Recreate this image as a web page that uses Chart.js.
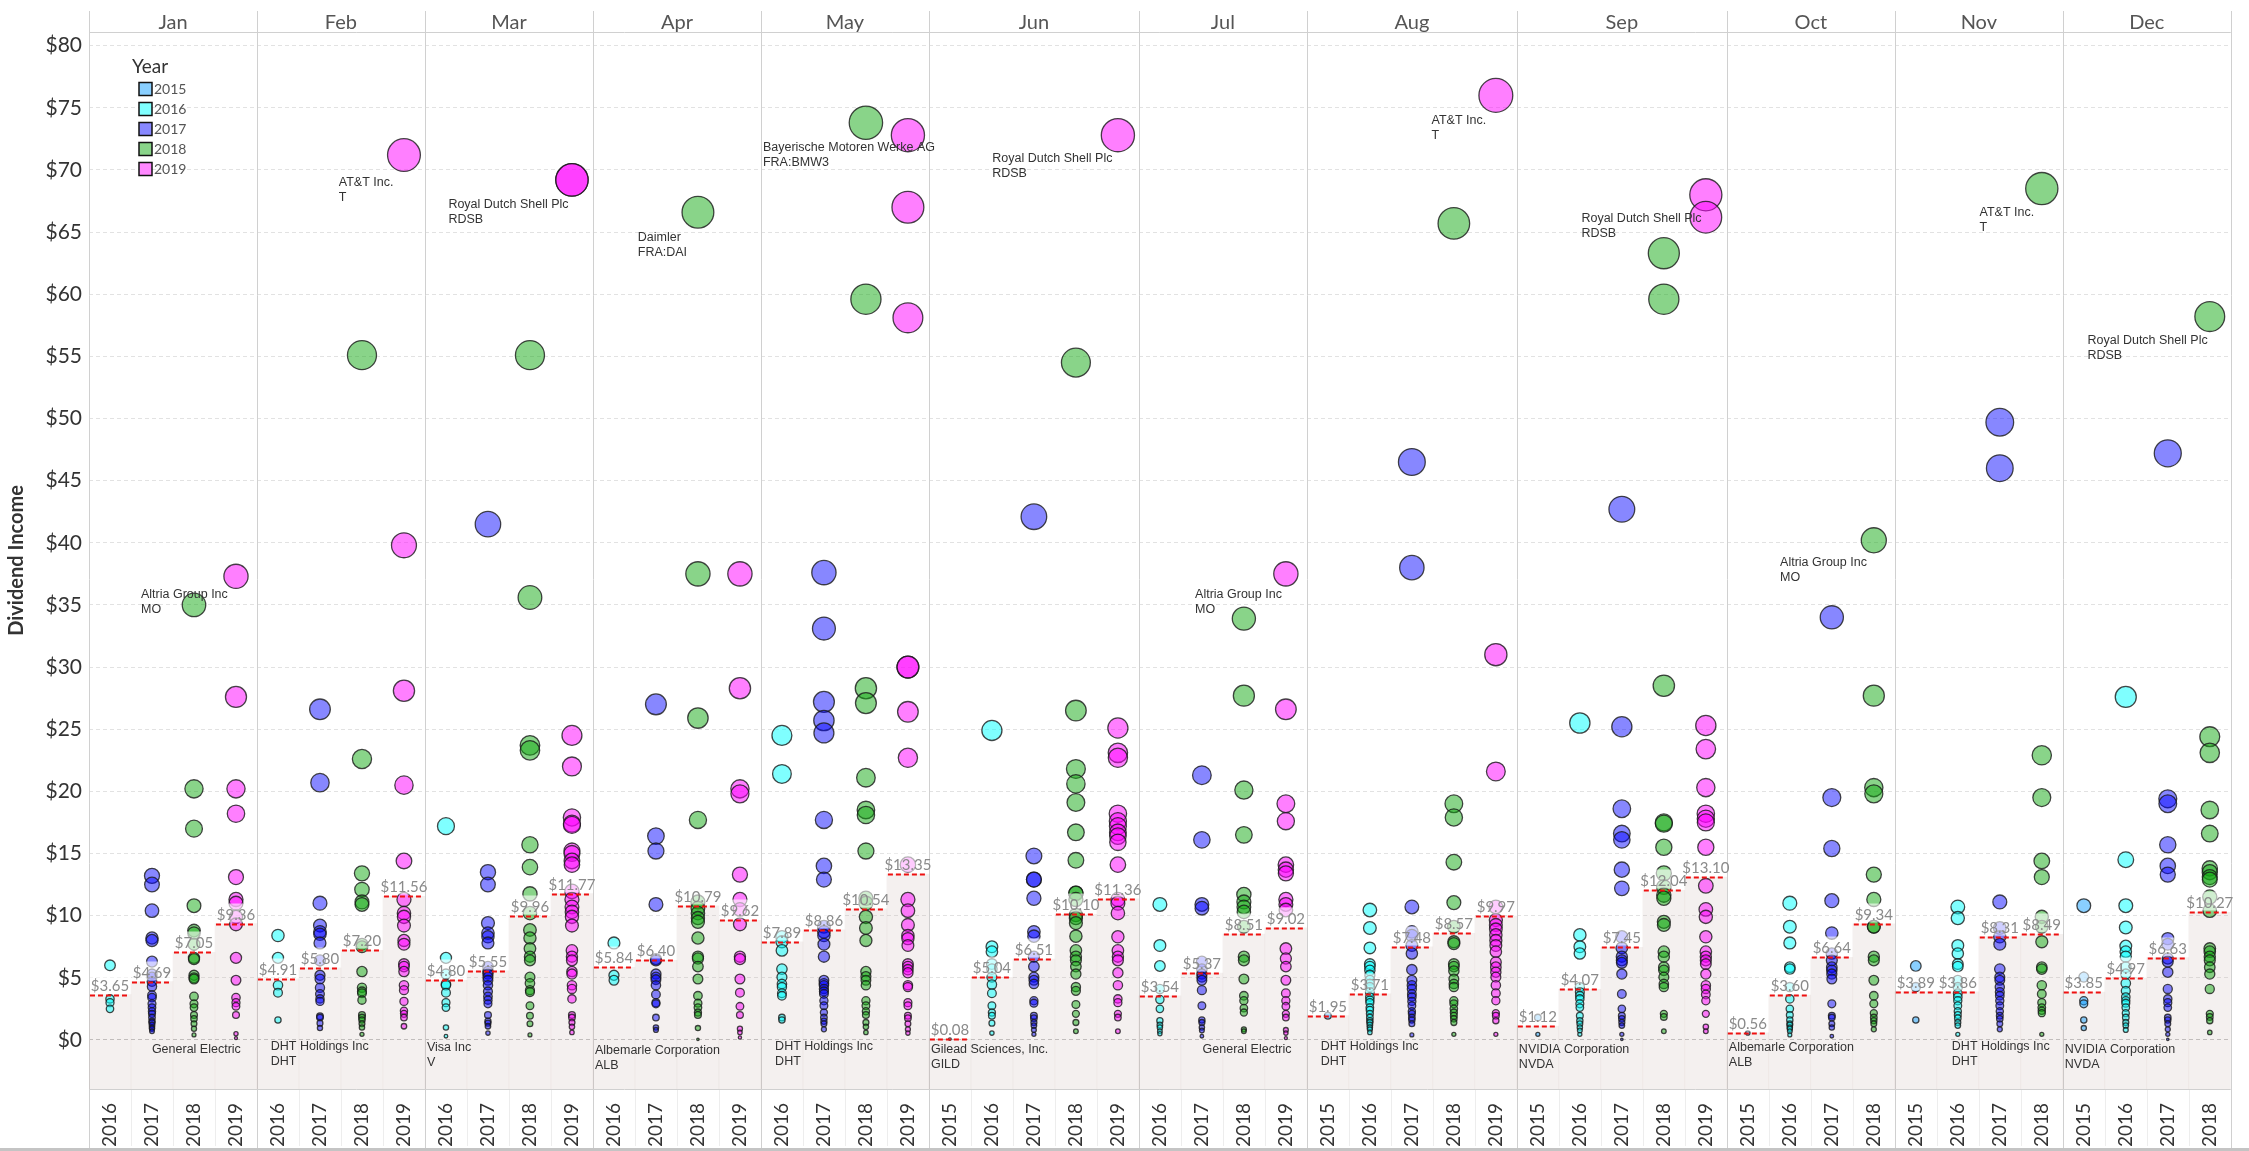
<!DOCTYPE html>
<html>
<head>
<meta charset="utf-8">
<script src="https://cdn.jsdelivr.net/npm/chart.js@4.4.1/dist/chart.umd.min.js"></script>
<style>
  html, body { margin: 0; padding: 0; background: #fff; overflow: hidden; }
  #wrap { width: 2249px; height: 1151px; position: relative; }
  #wrap canvas { display: block; }
</style>
</head>
<body>
<div id="wrap"><canvas id="dividendChart"></canvas></div>
<script>
const months = ['Jan', 'Feb', 'Mar', 'Apr', 'May', 'Jun', 'Jul', 'Aug', 'Sep', 'Oct', 'Nov', 'Dec'];
const monthYears = [
  [2016, 2017, 2018, 2019], [2016, 2017, 2018, 2019], [2016, 2017, 2018, 2019],
  [2016, 2017, 2018, 2019], [2016, 2017, 2018, 2019], [2015, 2016, 2017, 2018, 2019],
  [2016, 2017, 2018, 2019], [2015, 2016, 2017, 2018, 2019], [2015, 2016, 2017, 2018, 2019],
  [2015, 2016, 2017, 2018], [2015, 2016, 2017, 2018], [2015, 2016, 2017, 2018]
];
const yearList = [2015, 2016, 2017, 2018, 2019];
const yearFill = ['rgba(20,160,255,0.5)', 'rgba(0,255,255,0.5)', 'rgba(0,0,255,0.47)', 'rgba(20,170,20,0.5)', 'rgba(255,0,255,0.5)'];
const yearSwatch = ['#89cfff', '#80ffff', '#8888ff', '#89d489', '#ff88ff'];
const yTicks = [0, 5, 10, 15, 20, 25, 30, 35, 40, 45, 50, 55, 60, 65, 70, 75, 80];
const Y_MIN = -3.95;
const Y_MAX = 81.1;

// average dividend per column (month / year), as labelled
const avgIncome = [
  3.65, 4.69, 7.05, 9.36,
  4.91, 5.80, 7.20, 11.56,
  4.80, 5.55, 9.96, 11.77,
  5.84, 6.40, 10.79, 9.62,
  7.89, 8.86, 10.54, 13.35,
  0.08, 5.04, 6.51, 10.10, 11.36,
  3.54, 5.37, 8.51, 9.02,
  1.95, 3.71, 7.48, 8.57, 9.97,
  1.12, 4.07, 7.45, 12.04, 13.10,
  0.56, 3.60, 6.64, 9.34,
  3.89, 3.86, 8.31, 8.49,
  3.85, 4.97, 6.63, 10.27
];

// individual dividend payments, one list per year column
const janIncome = [
  [6.0, 3.3, 3.0, 2.5],
  [13.2, 12.5, 10.4, 8.2, 8.0, 6.3, 5.3, 5.05, 4.7, 4.3, 3.6, 3.4, 2.9, 2.6, 2.3, 2.1, 1.8, 1.5, 1.4, 1.2, 1.0, 0.9, 0.7],
  [35.0, 20.2, 17.0, 10.8, 8.8, 8.6, 7.7, 6.6, 6.5, 5.2, 5.0, 4.9, 3.5, 2.9, 2.6, 2.0, 1.7, 1.3, 0.9, 0.4],
  [37.3, 27.6, 20.2, 18.2, 13.1, 11.3, 11.0, 9.9, 9.3, 6.6, 4.8, 3.4, 3.0, 2.7, 2.0, 0.5, 0.15]
];
const febIncome = [
  [8.4, 6.6, 4.4, 3.8, 1.6],
  [26.6, 20.7, 11.0, 9.2, 8.7, 8.5, 7.8, 6.4, 5.2, 4.9, 4.2, 3.7, 3.3, 3.1, 1.9, 1.8, 1.35, 0.95],
  [55.1, 22.6, 13.4, 12.1, 11.1, 10.9, 7.7, 7.5, 5.5, 4.2, 3.9, 3.75, 3.2, 2.0, 1.8, 1.6, 1.3, 1.0, 0.45],
  [71.2, 39.8, 28.1, 20.5, 14.4, 11.3, 10.2, 9.9, 9.2, 8.0, 7.7, 6.1, 5.9, 5.5, 4.4, 4.0, 3.1, 2.35, 2.1, 1.8, 1.1]
];
const marIncome = [
  [17.2, 6.6, 5.3, 4.5, 4.4, 3.8, 3.0, 2.6, 1.0, 0.3],
  [41.5, 13.5, 12.5, 9.4, 8.6, 8.3, 7.8, 5.9, 5.5, 5.3, 5.05, 4.8, 4.4, 3.9, 3.5, 3.2, 2.9, 2.0, 1.5, 1.35, 1.1, 0.55],
  [55.1, 35.6, 23.7, 23.3, 15.7, 13.9, 11.75, 10.2, 8.85, 8.2, 7.35, 6.7, 6.4, 5.05, 4.55, 4.0, 3.85, 2.75, 1.95, 1.3, 0.4],
  [69.2, 69.2, 24.5, 22.0, 17.9, 17.4, 17.3, 15.2, 15.0, 14.4, 14.1, 11.95, 11.3, 10.7, 10.3, 9.9, 9.2, 7.2, 6.7, 6.4, 5.5, 5.3, 4.4, 4.1, 3.3, 2.0, 1.8, 1.4, 1.05, 0.6]
];
const aprIncome = [
  [7.8, 5.2, 4.8],
  [27.0, 16.4, 15.2, 10.9, 6.5, 6.4, 5.3, 5.05, 4.85, 4.4, 3.65, 3.0, 2.9, 1.8, 1.0, 0.8],
  [66.6, 37.5, 25.9, 17.7, 11.1, 10.6, 10.2, 9.8, 9.5, 8.2, 6.7, 6.55, 5.9, 4.9, 3.55, 2.95, 2.6, 2.2, 2.0, 0.95, 0.05],
  [37.5, 28.3, 20.2, 19.8, 13.3, 11.3, 10.5, 9.3, 6.7, 6.5, 4.9, 3.8, 2.7, 2.0, 0.9, 0.6, 0.2]
];
const mayIncome = [
  [24.5, 21.4, 8.3, 7.9, 7.2, 5.7, 5.05, 4.5, 4.25, 3.75, 3.55, 1.8, 1.6],
  [37.6, 33.1, 27.2, 25.7, 24.7, 17.7, 14.0, 12.9, 9.1, 8.7, 8.4, 7.7, 6.7, 4.8, 4.55, 4.4, 4.1, 3.9, 3.7, 3.15, 2.75, 2.2, 1.8, 1.5, 1.3, 0.85],
  [73.8, 59.6, 28.3, 27.1, 21.1, 18.5, 18.1, 15.2, 11.4, 11.0, 9.9, 9.0, 8.0, 5.5, 5.1, 4.8, 4.4, 3.15, 2.75, 2.3, 2.0, 1.4, 1.05, 0.6],
  [72.8, 67.0, 58.1, 30.0, 30.0, 26.4, 22.7, 14.1, 11.3, 10.4, 9.25, 8.4, 8.15, 7.6, 6.1, 5.9, 5.65, 5.4, 4.4, 4.25, 3.0, 2.75, 1.95, 1.75, 1.3, 0.85, 0.55]
];
const junIncome = [
  [0.08],
  [24.9, 7.5, 7.1, 6.1, 5.7, 5.05, 4.45, 3.75, 2.75, 2.2, 1.95, 1.35, 0.55],
  [42.1, 14.8, 12.9, 12.9, 11.4, 8.7, 8.35, 6.7, 5.9, 5.05, 4.8, 4.5, 3.15, 2.95, 1.95, 1.75, 1.4, 1.15, 0.8, 0.45],
  [54.5, 26.5, 21.8, 20.6, 19.1, 16.7, 14.45, 11.8, 11.8, 11.3, 10.05, 9.8, 9.4, 8.35, 7.2, 6.7, 6.4, 5.9, 5.3, 4.25, 3.95, 2.85, 2.1, 1.4, 0.7],
  [72.8, 25.1, 23.1, 22.7, 18.2, 17.6, 17.2, 16.7, 16.4, 15.9, 14.1, 11.3, 11.0, 10.2, 8.3, 7.2, 6.7, 6.4, 5.4, 4.4, 3.3, 3.0, 2.1, 1.8, 0.7]
];
const julIncome = [
  [10.9, 7.6, 5.95, 4.1, 3.25, 2.5, 1.55, 1.2, 1.0, 0.7, 0.5],
  [21.3, 16.1, 10.9, 10.6, 6.3, 5.7, 5.3, 5.05, 4.8, 4.0, 2.75, 1.6, 1.4, 1.0, 0.75, 0.3],
  [33.9, 27.7, 20.1, 16.5, 11.7, 11.1, 10.7, 10.3, 9.1, 6.7, 6.4, 4.9, 3.55, 3.15, 2.55, 2.2, 0.85, 0.7],
  [37.5, 26.6, 19.0, 17.6, 14.1, 13.7, 13.4, 11.3, 10.9, 10.45, 7.35, 6.55, 5.9, 4.8, 3.75, 3.15, 2.7, 2.1, 1.8, 0.8, 0.55, 0.15]
];
const augIncome = [
  [1.95],
  [10.45, 9.0, 7.4, 6.1, 5.9, 5.6, 5.2, 4.8, 4.5, 4.25, 3.85, 3.45, 3.2, 3.0, 2.6, 2.4, 2.1, 1.8, 1.55, 1.4, 1.2, 1.0, 0.85, 0.6],
  [46.5, 38.0, 10.7, 8.7, 8.4, 7.6, 6.95, 5.65, 4.8, 4.4, 4.1, 3.7, 3.45, 3.1, 2.75, 2.3, 2.1, 1.8, 1.6, 1.3, 0.4],
  [65.7, 19.0, 17.9, 14.3, 11.05, 9.1, 7.9, 7.75, 6.1, 5.9, 5.55, 4.9, 4.5, 4.25, 3.15, 2.9, 2.5, 2.2, 1.95, 1.7, 1.4, 0.45],
  [76.0, 31.0, 21.6, 10.7, 9.65, 9.25, 8.9, 8.45, 8.0, 7.6, 7.1, 6.25, 5.85, 5.45, 5.05, 4.4, 3.75, 3.15, 2.15, 1.95, 1.55, 0.45]
];
const sepIncome = [
  [1.8, 0.45],
  [25.5, 8.45, 7.5, 6.95, 4.25, 3.85, 3.55, 3.3, 2.9, 2.6, 1.95, 1.55, 1.3, 1.0, 0.75, 0.45],
  [42.7, 25.2, 18.6, 16.6, 16.1, 13.7, 12.2, 8.3, 7.4, 6.7, 6.4, 6.2, 5.3, 3.7, 2.5, 1.95, 1.7, 1.4, 1.15, 0.45, 0.05],
  [63.3, 59.6, 28.5, 17.5, 17.4, 15.5, 13.4, 12.3, 11.65, 11.4, 9.5, 9.25, 7.1, 6.7, 5.85, 5.6, 5.05, 4.5, 4.25, 2.1, 1.85, 0.7],
  [68.0, 66.2, 25.3, 23.4, 20.3, 18.2, 17.8, 17.5, 15.5, 12.4, 10.5, 9.9, 8.3, 7.1, 6.7, 6.4, 6.1, 5.3, 4.4, 4.1, 3.65, 3.15, 2.1, 1.05, 0.7]
];
const octIncome = [
  [0.56],
  [11.0, 9.1, 7.8, 5.85, 5.7, 4.25, 3.3, 2.5, 2.0, 1.6, 1.3, 1.2, 1.0, 0.9, 0.7, 0.4],
  [34.0, 19.5, 15.4, 11.2, 8.6, 6.95, 6.4, 5.85, 5.6, 5.3, 4.9, 2.9, 1.95, 1.8, 1.3, 1.0, 0.3],
  [40.2, 27.7, 20.3, 19.8, 13.3, 11.3, 9.1, 9.1, 6.7, 6.4, 4.8, 3.55, 2.9, 2.15, 1.8, 1.55, 1.3, 0.85]
];
const novIncome = [
  [5.95, 4.25, 1.6],
  [10.7, 9.8, 7.6, 6.95, 6.1, 5.9, 4.8, 4.25, 3.75, 3.45, 3.15, 2.75, 2.3, 2.0, 1.75, 1.4, 1.15, 0.45],
  [49.7, 46.0, 11.1, 9.0, 8.3, 7.7, 5.7, 5.05, 4.8, 4.25, 3.85, 3.55, 3.15, 2.75, 2.3, 1.95, 1.7, 1.3, 0.85],
  [68.5, 22.9, 19.5, 14.4, 13.1, 9.9, 9.1, 7.9, 5.85, 5.7, 4.4, 3.7, 3.0, 2.6, 2.35, 2.15, 0.45]
];
const decIncome = [
  [10.8, 5.05, 3.15, 2.9, 1.6, 0.95],
  [27.6, 14.5, 10.8, 9.05, 7.55, 7.1, 6.7, 5.85, 5.3, 4.55, 3.95, 3.45, 3.15, 2.95, 2.6, 2.15, 1.8, 1.4, 1.15, 0.8],
  [47.2, 19.4, 19.0, 15.7, 14.0, 13.3, 8.15, 7.7, 6.55, 6.3, 5.45, 4.1, 3.3, 3.0, 2.6, 1.8, 1.6, 1.3, 0.85, 0.45, 0.05],
  [58.2, 24.4, 23.1, 18.5, 16.6, 13.8, 13.5, 13.1, 12.9, 11.5, 10.4, 7.35, 7.1, 6.7, 6.4, 5.85, 5.3, 4.1, 2.1, 1.85, 1.55, 0.6]
];

// company labels: month, column offset inside the panel, value, text lines
const topNotes = [
  { month: 'Jan', at: 1.19, y: 35.8, lines: ['Altria Group Inc', 'MO'] },
  { month: 'Feb', at: 1.90, y: 69.0, lines: ['AT&T Inc.', 'T'] },
  { month: 'Mar', at: 0.51, y: 67.2, lines: ['Royal Dutch Shell Plc', 'RDSB'] },
  { month: 'Apr', at: 1.02, y: 64.6, lines: ['Daimler', 'FRA:DAI'] },
  { month: 'May', at: 0.00, y: 71.8, lines: ['Bayerische Motoren Werke AG', 'FRA:BMW3'] },
  { month: 'Jun', at: 1.46, y: 70.9, lines: ['Royal Dutch Shell Plc', 'RDSB'] },
  { month: 'Jul', at: 1.29, y: 35.8, lines: ['Altria Group Inc', 'MO'] },
  { month: 'Aug', at: 2.92, y: 74.0, lines: ['AT&T Inc.', 'T'] },
  { month: 'Sep', at: 1.49, y: 66.1, lines: ['Royal Dutch Shell Plc', 'RDSB'] },
  { month: 'Oct', at: 1.22, y: 38.4, lines: ['Altria Group Inc', 'MO'] },
  { month: 'Nov', at: 1.97, y: 66.6, lines: ['AT&T Inc.', 'T'] },
  { month: 'Dec', at: 0.54, y: 56.3, lines: ['Royal Dutch Shell Plc', 'RDSB'] }
];
const bottomNotes = [
  { month: 'Jan', at: 1.45, y: -0.8, lines: ['General Electric'] },
  { month: 'Feb', at: 0.28, y: -0.5, lines: ['DHT Holdings Inc', 'DHT'] },
  { month: 'Mar', at: 0.00, y: -0.65, lines: ['Visa Inc', 'V'] },
  { month: 'Apr', at: 0.00, y: -0.85, lines: ['Albemarle Corporation', 'ALB'] },
  { month: 'May', at: 0.29, y: -0.5, lines: ['DHT Holdings Inc', 'DHT'] },
  { month: 'Jun', at: 0.00, y: -0.8, lines: ['Gilead Sciences, Inc.', 'GILD'] },
  { month: 'Jul', at: 1.47, y: -0.8, lines: ['General Electric'] },
  { month: 'Aug', at: 0.28, y: -0.55, lines: ['DHT Holdings Inc', 'DHT'] },
  { month: 'Sep', at: 0.00, y: -0.8, lines: ['NVIDIA Corporation', 'NVDA'] },
  { month: 'Oct', at: 0.00, y: -0.65, lines: ['Albemarle Corporation', 'ALB'] },
  { month: 'Nov', at: 1.31, y: -0.5, lines: ['DHT Holdings Inc', 'DHT'] },
  { month: 'Dec', at: 0.00, y: -0.75, lines: ['NVIDIA Corporation', 'NVDA'] }
];

const incomeByMonth = [janIncome, febIncome, marIncome, aprIncome, mayIncome, junIncome,
  julIncome, augIncome, sepIncome, octIncome, novIncome, decIncome];

const columns = [];
const panelStart = [];
months.forEach((m, mi) => {
  panelStart.push(columns.length);
  monthYears[mi].forEach(yr => columns.push(m + ' ' + yr));
});

const bubbleSets = yearList.map((yr, yi) => {
  const points = [];
  months.forEach((m, mi) => {
    const k = monthYears[mi].indexOf(yr);
    if (k < 0) return;
    incomeByMonth[mi][k].forEach(v => points.push({ x: m + ' ' + yr, y: v }));
  });
  return {
    type: 'bubble',
    label: String(yr),
    data: points,
    backgroundColor: yearFill[yi],
    borderColor: 'rgba(25,25,25,0.8)',
    borderWidth: 1.3,
    radius: ctx => 0.8 + 1.85 * Math.sqrt(Math.max(ctx.raw ? ctx.raw.y : 0, 0)),
    hoverRadius: 0,
    order: 1
  };
});

const avgBars = {
  type: 'bar',
  label: 'avg',
  data: avgIncome,
  base: Y_MIN,
  backgroundColor: 'rgba(190,168,162,0.17)',
  borderWidth: 0,
  barPercentage: 1,
  categoryPercentage: 1,
  order: 10
};

const panelPlugin = {
  id: 'panelPlugin',
  beforeDatasetsDraw(chart) {
    const { ctx, chartArea, scales: { x } } = chart;
    const colW = x.width / columns.length;
    ctx.save();
    // faint year separators under the axis
    ctx.strokeStyle = '#ededed';
    ctx.lineWidth = 1;
    for (let i = 1; i < columns.length; i++) {
      const px = Math.round(x.getPixelForValue(i) - colW / 2) + 0.5;
      ctx.beginPath();
      ctx.moveTo(px, chartArea.bottom);
      ctx.lineTo(px, 1146);
      ctx.stroke();
    }
    // panel borders
    ctx.strokeStyle = '#d0d0d0';
    const edges = panelStart.map(s => x.getPixelForValue(s) - colW / 2).concat([x.right]);
    edges.forEach(e => {
      const px = Math.round(e) + 0.5;
      ctx.beginPath();
      ctx.moveTo(px, 11);
      ctx.lineTo(px, 1148);
      ctx.stroke();
    });
    // header line and bottom lines
    ctx.beginPath();
    ctx.moveTo(chartArea.left, chartArea.top + 0.5);
    ctx.lineTo(chartArea.right, chartArea.top + 0.5);
    ctx.moveTo(chartArea.left, chartArea.bottom + 0.5);
    ctx.lineTo(chartArea.right, chartArea.bottom + 0.5);
    ctx.stroke();
    ctx.strokeStyle = '#c4c4c4';
    ctx.lineWidth = 3;
    ctx.beginPath();
    ctx.moveTo(0, 1149.5);
    ctx.lineTo(chart.width, 1149.5);
    ctx.stroke();
    // month headers
    ctx.fillStyle = '#555';
    ctx.font = '20px Lato, "Open Sans", sans-serif';
    ctx.textAlign = 'center';
    ctx.textBaseline = 'middle';
    months.forEach((m, mi) => {
      ctx.fillText(m, (edges[mi] + edges[mi + 1]) / 2, 23);
    });
    ctx.restore();
  },
  afterDatasetsDraw(chart) {
    const { ctx, chartArea, scales: { x, y } } = chart;
    const colW = x.width / columns.length;
    ctx.save();
    // average reference lines with labels
    avgIncome.forEach((a, i) => {
      const cx = x.getPixelForValue(i);
      const yy = Math.round(y.getPixelForValue(a)) + 0.5;
      ctx.fillStyle = 'rgba(255,255,255,0.6)';
      ctx.fillRect(cx - colW / 2 + 1, yy - 21, colW - 2, 19);
      ctx.fillStyle = '#8a8a8a';
      ctx.font = '15px Lato, "Open Sans", sans-serif';
      ctx.textAlign = 'center';
      ctx.textBaseline = 'alphabetic';
      ctx.fillText('$' + a.toFixed(2), cx, yy - 5);
      ctx.strokeStyle = '#ee1111';
      ctx.lineWidth = 2;
      ctx.setLineDash([5, 3]);
      ctx.beginPath();
      ctx.moveTo(cx - colW / 2 + 1, yy);
      ctx.lineTo(cx + colW / 2 - 1, yy);
      ctx.stroke();
      ctx.setLineDash([]);
    });
    // company labels
    ctx.fillStyle = '#333';
    ctx.font = '12.5px "Liberation Sans", Arial, sans-serif';
    ctx.textAlign = 'left';
    ctx.textBaseline = 'middle';
    topNotes.concat(bottomNotes).forEach(n => {
      const mi = months.indexOf(n.month);
      const left = x.getPixelForValue(panelStart[mi]) - colW / 2;
      const px = left + n.at * colW + 2;
      const py = y.getPixelForValue(n.y);
      n.lines.forEach((t, li) => ctx.fillText(t, px, py + li * 15));
    });
    // year legend inside the first panel
    const lx = chartArea.left + 43;
    ctx.fillStyle = '#333';
    ctx.font = '19px Lato, "Open Sans", sans-serif';
    ctx.fillText('Year', lx, 67);
    ctx.font = '14px Lato, "Open Sans", sans-serif';
    yearList.forEach((yr, yi) => {
      const cy = 89 + yi * 20;
      ctx.fillStyle = yearSwatch[yi];
      ctx.fillRect(lx + 7, cy - 6.5, 13, 13);
      ctx.strokeStyle = '#111';
      ctx.lineWidth = 1.5;
      ctx.strokeRect(lx + 7, cy - 6.5, 13, 13);
      ctx.fillStyle = '#555';
      ctx.fillText(String(yr), lx + 22, cy);
    });
    ctx.restore();
  }
};

new Chart(document.getElementById('dividendChart'), {
  data: {
    labels: columns,
    datasets: [avgBars].concat(bubbleSets)
  },
  options: {
    responsive: true,
    maintainAspectRatio: false,
    devicePixelRatio: 1,
    animation: false,
    layout: { padding: { top: 32, right: 4, bottom: 2, left: 0 } },
    plugins: {
      legend: { display: false },
      tooltip: { enabled: false }
    },
    scales: {
      x: {
        type: 'category',
        offset: true,
        grid: { display: false },
        border: { display: false },
        afterFit: s => { s.height = 60; s.paddingLeft = 0; s.paddingRight = 0; },
        ticks: {
          autoSkip: false,
          maxRotation: 90,
          minRotation: 90,
          padding: 6,
          color: '#333',
          font: { family: 'Lato, "Open Sans", sans-serif', size: 19 },
          callback: (v, i) => columns[i].split(' ')[1]
        }
      },
      y: {
        type: 'linear',
        min: Y_MIN,
        max: Y_MAX,
        afterFit: s => { s.width = 89; s.paddingTop = 0; s.paddingBottom = 0; },
        afterBuildTicks: s => { s.ticks = yTicks.map(v => ({ value: v })); },
        grid: {
          drawTicks: false,
          color: ctx => (ctx.tick && ctx.tick.value === 0 ? '#c2c2c2' : '#e2e2e2'),
          lineWidth: 1
        },
        border: { display: false, dash: [4, 3] },
        ticks: {
          padding: 7,
          color: '#333',
          font: { family: 'Lato, "Open Sans", sans-serif', size: 21 },
          callback: v => '$' + v
        },
        title: {
          display: true,
          text: 'Dividend Income',
          color: '#333',
          font: { family: 'Lato, "Open Sans", sans-serif', size: 20, weight: 'bold' },
          padding: { top: 5, bottom: 0 }
        }
      }
    }
  },
  plugins: [panelPlugin]
});
</script>
</body>
</html>
